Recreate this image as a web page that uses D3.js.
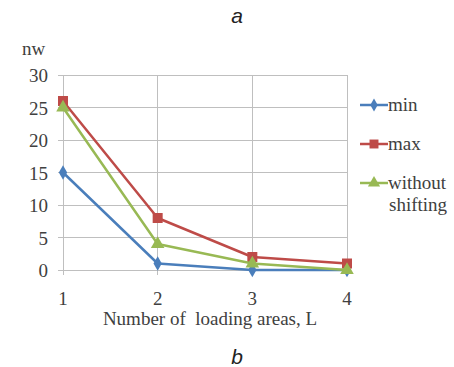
<!DOCTYPE html>
<html><head><meta charset="utf-8">
<script src="https://cdn.jsdelivr.net/npm/d3@7"></script>
<style>body{margin:0;background:#fff}</style>
</head><body>
<script>
const categories = [1, 2, 3, 4];
const minValues = [15, 1, 0, 0];
const maxValues = [26, 8, 2, 1];
const withoutShifting = [25, 4, 1, 0];
const yTicks = [0, 5, 10, 15, 20, 25, 30];
const seriesNames = ["min", "max", "without shifting"];

const W = 454, H = 367;
const svg = d3.select("body").append("svg").attr("width", W).attr("height", H);
const x = d3.scalePoint().domain(categories).range([63, 347]);
const y = d3.scaleLinear().domain([0, 30]).range([270, 75]);
const grid = "#bfbfbf";
const serif = "'Liberation Serif', 'Times New Roman', serif";
const txt = "#404040";
const fs = 19;

// horizontal grid
svg.append("g").selectAll("line").data(yTicks).join("line")
  .attr("x1", 58).attr("x2", 347).attr("y1", d => y(d)).attr("y2", d => y(d))
  .attr("stroke", grid).attr("stroke-width", 1).attr("shape-rendering", "crispEdges");
// vertical grid
svg.append("g").selectAll("line").data(categories).join("line")
  .attr("x1", d => x(d)).attr("x2", d => x(d)).attr("y1", 75).attr("y2", 275)
  .attr("stroke", grid).attr("stroke-width", 1).attr("shape-rendering", "crispEdges");

// y labels
svg.append("g").selectAll("text").data(yTicks).join("text")
  .attr("x", 48).attr("y", d => y(d) + 7).attr("text-anchor", "end")
  .attr("font-family", serif).attr("font-size", fs).attr("fill", txt).text(d => d);
// x labels
svg.append("g").selectAll("text").data(categories).join("text")
  .attr("x", d => x(d)).attr("y", 305).attr("text-anchor", "middle")
  .attr("font-family", serif).attr("font-size", fs).attr("fill", txt).text(d => d);

svg.append("text").attr("x", 210).attr("y", 325).attr("text-anchor", "middle")
  .attr("font-family", serif).attr("font-size", fs).attr("fill", txt)
  .style("white-space", "pre").text("Number of  loading areas, L");
svg.append("text").attr("x", 22).attr("y", 55)
  .attr("font-family", serif).attr("font-size", fs).attr("fill", txt).text("nw");
svg.append("text").attr("x", 237).attr("y", 23).attr("text-anchor", "middle")
  .attr("font-family", "'Liberation Sans', Arial, sans-serif").attr("font-style", "italic")
  .attr("font-size", 21).attr("fill", "#222").text("a");
svg.append("text").attr("x", 237).attr("y", 364).attr("text-anchor", "middle")
  .attr("font-family", "'Liberation Sans', Arial, sans-serif").attr("font-style", "italic")
  .attr("font-size", 21).attr("fill", "#222").text("b");

const series = [
  {name: seriesNames[0], values: minValues, color: "#4a7ebb", shape: d3.symbolDiamond, size: 60},
  {name: seriesNames[1], values: maxValues, color: "#be4b48", shape: d3.symbolSquare, size: 100},
  {name: seriesNames[2], values: withoutShifting, color: "#98b954", shape: d3.symbolTriangle, size: 80}
];
const line = d3.line().x((d, i) => x(categories[i])).y(d => y(d));

series.forEach(s => {
  svg.append("path").attr("d", line(s.values)).attr("fill", "none")
    .attr("stroke", s.color).attr("stroke-width", 2.5).attr("stroke-linejoin", "round");
  svg.append("g").selectAll("path").data(s.values).join("path")
    .attr("d", d3.symbol().type(s.shape).size(s.size))
    .attr("transform", (d, i) => `translate(${x(categories[i])},${y(d)})`)
    .attr("fill", s.color);
});

// legend
const legY = [105, 144, 183];
series.forEach((s, i) => {
  const g = svg.append("g").attr("transform", `translate(0,${legY[i]})`);
  g.append("line").attr("x1", 360).attr("x2", 388).attr("y1", 0).attr("y2", 0)
    .attr("stroke", s.color).attr("stroke-width", 2.5);
  g.append("path").attr("d", d3.symbol().type(s.shape).size(s.size * 0.8)())
    .attr("transform", "translate(374,0)").attr("fill", s.color);
  const t = g.append("text").attr("x", 388).attr("y", 6)
    .attr("font-family", serif).attr("font-size", fs).attr("fill", txt);
  const words = s.name === "without shifting" ? ["without", "shifting"] : [s.name];
  words.forEach((w, j) => t.append("tspan").attr("x", j === 0 ? 388 : 389).attr("dy", j === 0 ? 0 : 22).text(w));
});
</script>
</body></html>
